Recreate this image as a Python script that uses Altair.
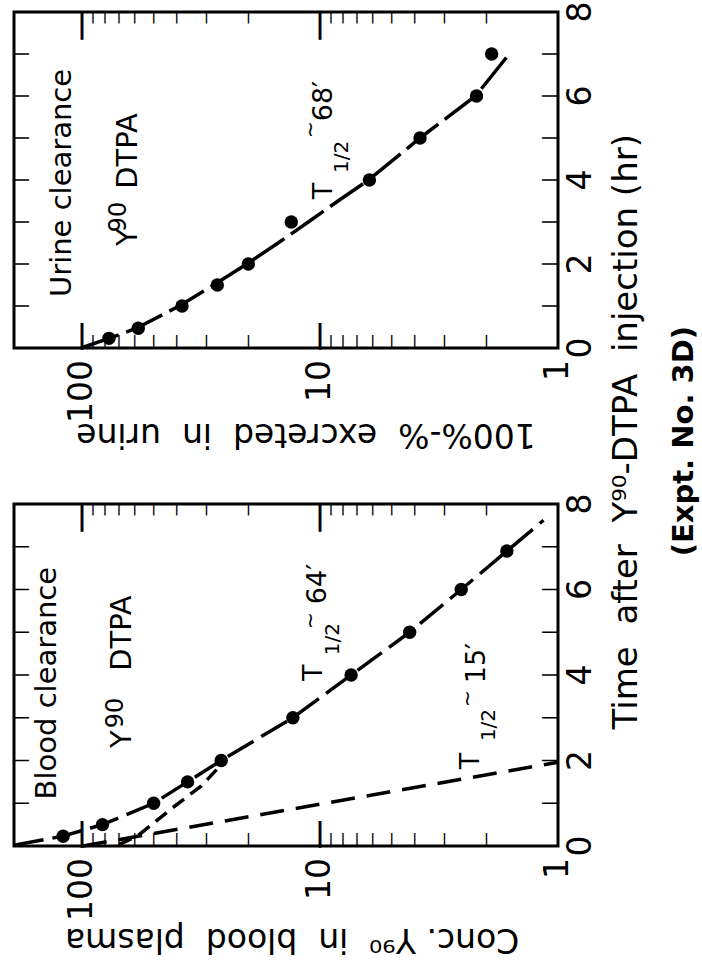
import altair as alt
import pandas as pd

# ---------------- data ----------------
# Urine clearance (upper panel): time (hr) vs 100% - % excreted in urine
urine_t = [0.23, 0.47, 1, 1.5, 2, 3, 4, 5, 6, 7]
urine_v = [77, 58, 38, 27, 20, 13.2, 6.2, 3.8, 2.2, 1.9]
urine_fit_t = [0, 0.23, 0.47, 1, 1.5, 2, 2.5, 3, 3.5, 4, 5, 6, 6.93]
urine_fit_v = [101, 77, 59, 39, 28, 20.3, 15, 11.2, 8.4, 6.25, 3.8, 2.22, 1.64]

# Blood clearance (lower panel): time (hr) vs conc. Y90 in blood plasma
blood_t = [0.23, 0.5, 1, 1.5, 2, 3, 4, 5, 6, 6.9]
blood_v = [120, 82, 50, 36, 26, 13, 7.4, 4.2, 2.55, 1.64]
blood_fit_t = [0.02, 0.23, 0.5, 1, 1.5, 2, 3, 4, 5, 6, 6.9, 7.62]
blood_fit_v = [193, 120, 82, 50, 36, 26, 13, 7.4, 4.2, 2.55, 1.64, 1.15]
slow_t = [0.03, 0.25, 0.9, 1.4, 1.94]
slow_v = [70, 58, 41.5, 31.6, 25.6]
fast_t = [0, 1.96]
fast_v = [99, 1.0]

# axis ticks and tick labels
conc_tick_lab = ["1", "10", "100"]
conc_tick_v = [1, 10, 100]
time_tick_lab = ["0", "2", "4", "6", "8"]
time_tick_t = [0, 2, 4, 6, 8]
hour_ticks = [1, 2, 3, 4, 5, 6, 7]
major_ticks = [10, 100]
minor_ticks = [2, 3, 4, 5, 6, 7, 8, 9, 20, 30, 40, 50, 60, 70, 80, 90]

NB = "\u00a0"
top_xtitle = "100%-%" + NB + " excreted" + NB + " in" + NB + " urine"
bot_xtitle = "Conc. Y\u2079\u2070" + NB + " in" + NB + " blood" + NB + " plasma"
time_title = "Time" + NB + " after" + NB + " Y\u2079\u2070-DTPA" + NB + " injection (hr)"
expt_note = "(Expt. No. 3D)"

# annotation texts (label, conc, time)
top_big_lab = ["Urine clearance", "Y", "DTPA"]
top_big_v = [121.3, 64.1, 64.1]
top_big_t = [3.93, 2.64, 4.69]
top_mid_lab = ["T", "68\u2032"]
top_mid_v = [9.62, 9.62]
top_mid_t = [3.74, 5.88]
top_small_lab = ["1/2", "~"]
top_small_v = [8.08, 10.9]
top_small_t = [4.55, 5.2]
top_sup_lab = ["90"]
top_sup_v = [69.9]
top_sup_t = [3.12]

bot_big_lab = ["Blood clearance", "Y", "DTPA"]
bot_big_v = [140.3, 67.9, 67.9]
bot_big_t = [3.81, 2.50, 4.98]
bot_mid_lab = ["T", "64\u2032", "T", "15\u2032"]
bot_mid_v = [10.6, 10.2, 2.32, 2.19]
bot_mid_t = [4.05, 6.13, 1.99, 4.28]
bot_small_lab = ["1/2", "~", "1/2", "~"]
bot_small_v = [8.82, 10.9, 1.95, 2.38]
bot_small_t = [4.84, 5.27, 2.83, 3.45]
bot_sup_lab = ["90"]
bot_sup_v = [71.9]
bot_sup_t = [3.11]

# where the guide texts sit, in data units (outside the plotted domain)
top_ticklab_t = -0.286
bot_ticklab_t = -0.281
timelab_v = 0.80
top_xtitle_pos = (11.45, -2.05)
bot_xtitle_pos = (13.1, -2.18)
time_title_pos = (0.513, 9.69)
expt_pos = (0.2954, 9.47)

# ---------------- chart construction ----------------
FONT = "DejaVu Sans"
W = 544
VMAX = 193
XS = alt.Scale(type="log", domain=[1, VMAX], reverse=True)
YS = alt.Scale(domain=[0, 8])


def df(v, t):
    return pd.DataFrame({"v": v, "t": t})


def tdf(lab, v, t):
    return pd.DataFrame({"label": lab, "v": v, "t": t})


def xenc():
    return alt.X("v:Q", scale=XS, axis=None)


def yenc():
    return alt.Y("t:Q", scale=YS, axis=None)


def text_layer(d, size, angle=270, align="center", baseline="middle", bold=False):
    return alt.Chart(d).mark_text(
        angle=angle, fontSize=size, align=align, baseline=baseline,
        color="black", font=FONT, fontWeight="bold" if bold else "normal"
    ).encode(x=xenc(), y=yenc(), text="label:N")


def frame_ticks():
    """inward frame ticks drawn as bar glyphs anchored on the frame edges"""
    bar = "|"
    layers = []
    # time ticks on the left (conc = max) and right (conc = 1) edges
    for v_edge, base in [(VMAX, "bottom"), (1, "top")]:
        d = tdf([bar] * len(hour_ticks), [v_edge] * len(hour_ticks), hour_ticks)
        layers.append(text_layer(d, 15, angle=90, baseline=base, bold=True))
    # concentration ticks on the bottom (t = 0) and top (t = 8) edges
    for vals, size in [(major_ticks, 26), (minor_ticks, 12)]:
        n = len(vals)
        layers.append(text_layer(tdf([bar] * n, vals, [0] * n), size, angle=0,
                                 baseline="bottom", bold=True))
        layers.append(text_layer(tdf([bar] * n, vals, [8] * n), size, angle=0,
                                 baseline="top", bold=True))
    return layers


def guide_texts(ticklab_t, xtitle, xtitle_pos):
    return [
        text_layer(tdf(conc_tick_lab, conc_tick_v, [ticklab_t] * 3), 33,
                   align="right"),
        text_layer(tdf(time_tick_lab, [timelab_v] * 5, time_tick_t), 33),
        text_layer(tdf([xtitle], [xtitle_pos[0]], [xtitle_pos[1]]), 33, angle=180),
    ]


def line(v, t, dash):
    return alt.Chart(df(v, t)).mark_line(
        color="black", strokeWidth=3.5, strokeDash=dash, strokeCap="butt"
    ).encode(x=xenc(), y=yenc(), order="t:Q")


def points(v, t):
    return alt.Chart(df(v, t)).mark_circle(size=180, color="black", opacity=1).encode(
        x=xenc(), y=yenc()
    )


# upper panel
H1 = 336
top = alt.layer(
    line(urine_fit_v, urine_fit_t, [40, 8]),
    points(urine_v, urine_t),
    *frame_ticks(),
    text_layer(tdf(top_big_lab, top_big_v, top_big_t), 29),
    text_layer(tdf(top_mid_lab, top_mid_v, top_mid_t), 27),
    text_layer(tdf(top_small_lab, top_small_v, top_small_t), 20),
    text_layer(tdf(top_sup_lab, top_sup_v, top_sup_t), 24),
    *guide_texts(top_ticklab_t, top_xtitle, top_xtitle_pos),
).properties(width=W, height=H1)

# lower panel
H2 = 342
bottom = alt.layer(
    line(blood_fit_v, blood_fit_t, [30, 9]),
    line(slow_v, slow_t, [14, 8]),
    line(fast_v, fast_t, [24, 12]),
    points(blood_v, blood_t),
    *frame_ticks(),
    text_layer(tdf(bot_big_lab, bot_big_v, bot_big_t), 29),
    text_layer(tdf(bot_mid_lab, bot_mid_v, bot_mid_t), 27),
    text_layer(tdf(bot_small_lab, bot_small_v, bot_small_t), 20),
    text_layer(tdf(bot_sup_lab, bot_sup_v, bot_sup_t), 24),
    *guide_texts(bot_ticklab_t, bot_xtitle, bot_xtitle_pos),
    text_layer(tdf([time_title], [time_title_pos[0]], [time_title_pos[1]]), 34),
    text_layer(tdf([expt_note], [expt_pos[0]], [expt_pos[1]]), 29, bold=True),
).properties(width=W, height=H2)

chart = alt.vconcat(top, bottom, spacing=156, bounds="flush").properties(
    padding={"left": 5, "top": 0, "right": 0, "bottom": 12},
    background="white",
).configure(font=FONT).configure_view(stroke="black", strokeWidth=3)

chart.save("out.html", embed_options={"renderer": "svg", "actions": False})
